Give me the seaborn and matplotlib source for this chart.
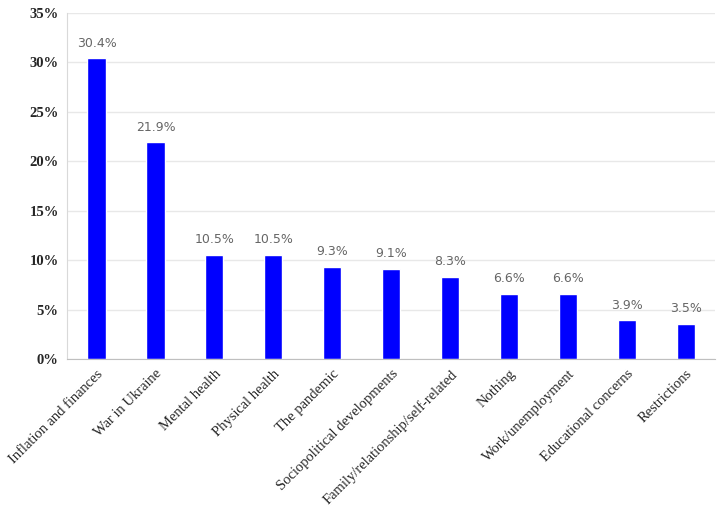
import matplotlib
matplotlib.use('Agg')
import matplotlib.pyplot as plt
import seaborn as sns
import pandas as pd
from matplotlib.ticker import PercentFormatter

categories = ['Inflation and finances', 'War in Ukraine', 'Mental health',
              'Physical health', 'The pandemic', 'Sociopolitical developments',
              'Family/relationship/self-related', 'Nothing', 'Work/unemployment',
              'Educational concerns', 'Restrictions']
values = [30.4, 21.9, 10.5, 10.5, 9.3, 9.1, 8.3, 6.6, 6.6, 3.9, 3.5]

df = pd.DataFrame({'category': categories, 'value': values})

sns.set_style('white')
plt.rcParams['font.family'] = ['Liberation Serif', 'DejaVu Serif']

fig = plt.figure(figsize=(7.21, 5.18), dpi=100)
ax = fig.add_axes([0.093, 0.307, 0.899, 0.668])

sns.barplot(data=df, x='category', y='value', color='#0000ff', saturation=1,
            width=0.31, ax=ax)

# value labels above bars
for i, v in enumerate(values):
    ax.text(i, v + 0.9, f'{v:.1f}%', ha='center', va='bottom',
            fontsize=9, color='#666666', family='DejaVu Sans')

ax.set_ylim(0, 35)
ax.set_xlim(-0.5, 10.5)
ax.set_yticks(range(0, 36, 5))
ax.yaxis.set_major_formatter(PercentFormatter(decimals=0))
ax.grid(axis='y', color='#e8e8e8', linewidth=1)
ax.set_axisbelow(True)
ax.set_xlabel('')
ax.set_ylabel('')

for lbl in ax.get_yticklabels():
    lbl.set_fontweight('bold')
    lbl.set_fontsize(10.5)
ax.set_xticks(range(len(categories)))
ax.set_xticklabels(categories, rotation=45, ha='right', rotation_mode='anchor',
                   fontsize=10.5)
ax.tick_params(axis='both', length=0, pad=6)

for s in ['top', 'right']:
    ax.spines[s].set_visible(False)
ax.spines['left'].set_color('#d9d9d9')
ax.spines['bottom'].set_color('#bfbfbf')

fig.savefig('out.png', dpi=100)
